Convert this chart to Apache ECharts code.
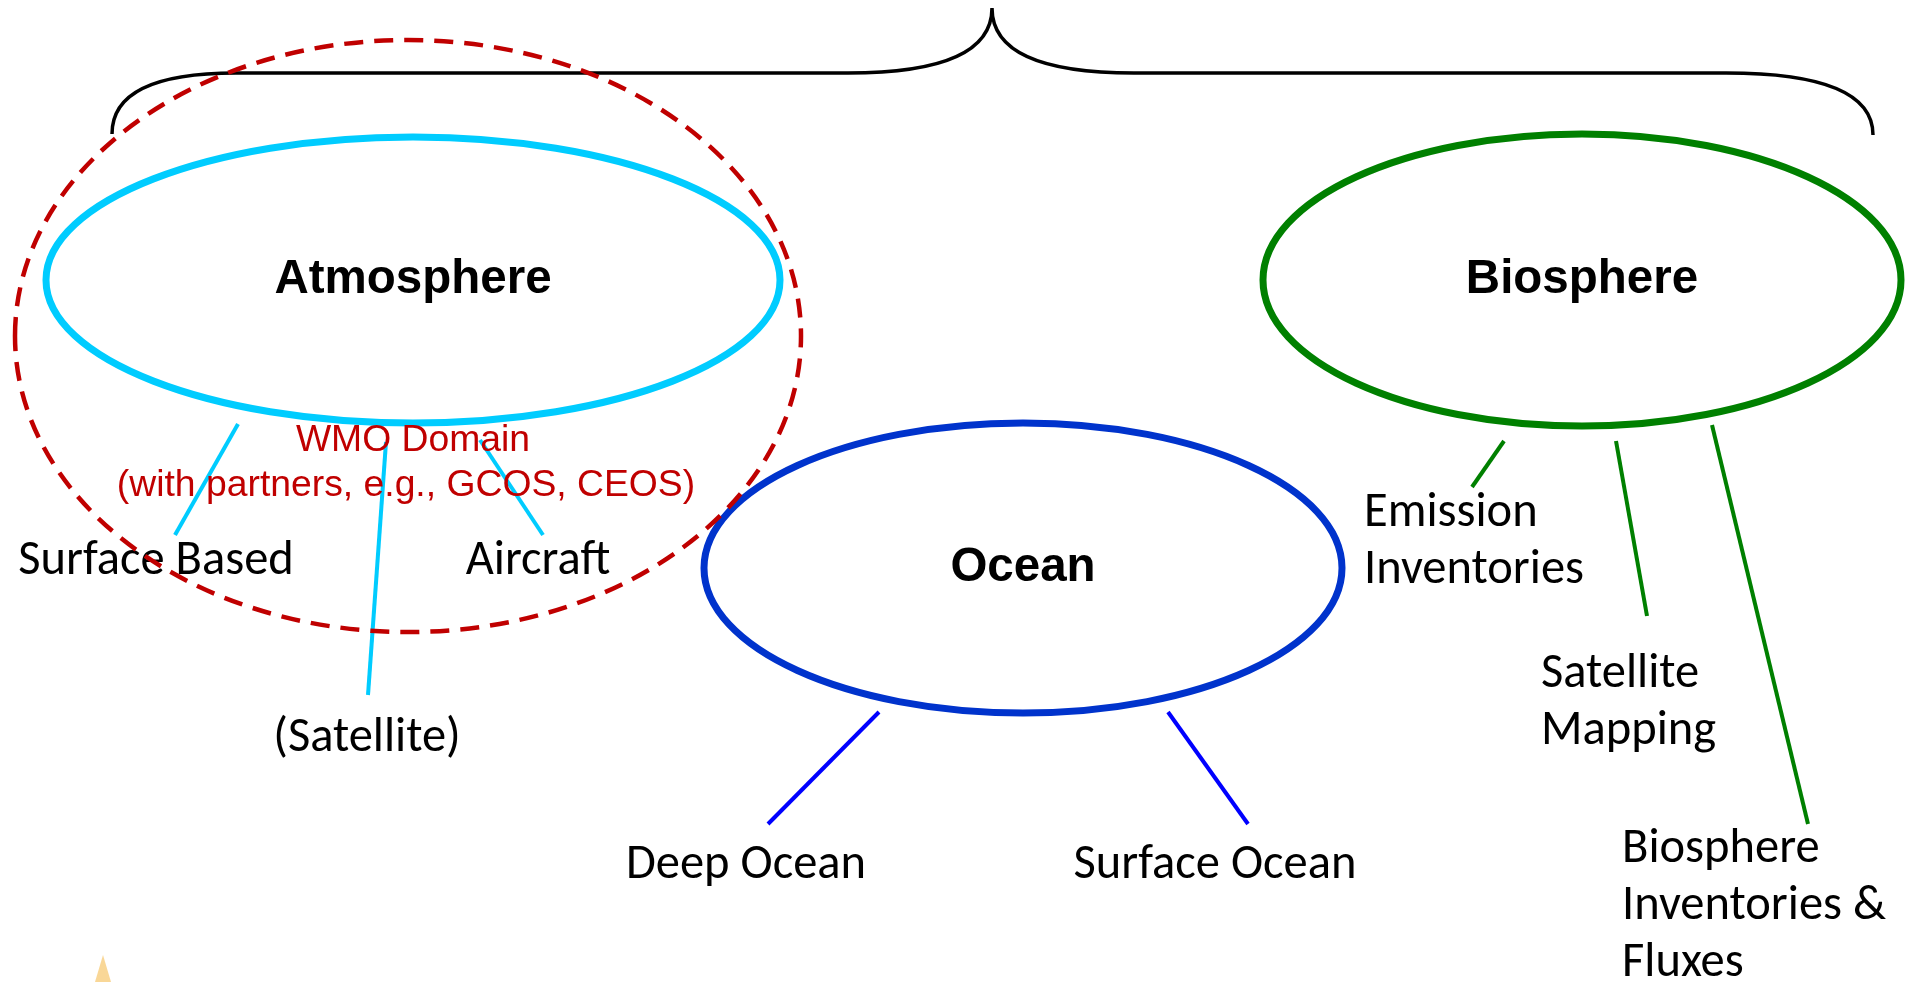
<!DOCTYPE html>
<html><head><meta charset="utf-8">
<script src="https://cdn.jsdelivr.net/npm/echarts@6/dist/echarts.min.js"></script>
<style>html,body{margin:0;padding:0;background:#fff}#c{width:1905px;height:982px}</style>
</head><body><div id="c"></div>
<script>
// Diagram space: x 0..1905, y 0..982 (y grows downward)
const domainNames = ['Atmosphere', 'Ocean', 'Biosphere'];
const domainCx = [413, 1023, 1582];
const domainCy = [280, 568, 280];
const domainRx = [367, 319, 319];
const domainRy = [143, 145, 146];

const wmoCenter = [408, 336];
const wmoRadii = [393, 296];
const wmoLines = ['WMO Domain', '(with partners, e.g., GCOS, CEOS)'];
const wmoLineX = [413, 406];
const wmoLineY = [441, 486];

const braceX = [112, 236, 848, 992, 1134, 1726, 1873];
const braceY = [134, 73, 73, 8, 73, 73, 135];

const leafLabels = ['Surface Based', 'Aircraft', '(Satellite)', 'Deep Ocean', 'Surface Ocean',
  'Emission\nInventories', 'Satellite\nMapping', 'Biosphere\nInventories &\nFluxes'];
const leafX = [156, 538, 367, 746, 1215, 1364, 1541, 1622];
const leafY = [562, 562, 739, 866, 866, 514, 675, 850];
const leafAnchor = ['center', 'center', 'center', 'center', 'center', 'left', 'left', 'left'];

const linkX1 = [238, 386, 480, 879, 1168, 1504, 1616, 1712];
const linkY1 = [424, 442, 440, 712, 712, 441, 441, 425];
const linkX2 = [175, 368, 543, 768, 1248, 1472, 1647, 1808];
const linkY2 = [535, 695, 535, 824, 824, 487, 616, 824];
const linkDomain = [0, 0, 0, 1, 1, 2, 2, 2];

const logoX = [95, 103, 111];
const logoY = [982, 955, 982];

// styles
const ellipseColors = ['#00ccff', '#0033cc', '#008000'];
const linkColors = ['#00ccff', '#0000ff', '#008000'];
const LABEL_FONT = 'Carlito, Calibri, Lato, sans-serif';
const HEAD_FONT = '"Liberation Sans", Arial, sans-serif';
const LABEL_SIZE = 48.5;
const LABEL_LH = 57;

const chart = echarts.init(document.getElementById('c'), null, {renderer: 'canvas'});

function pt(api, x, y) { return api.coord([x, y]); }

chart.setOption({
  animation: false,
  backgroundColor: '#fff',
  grid: {left: 0, right: 0, top: 0, bottom: 0},
  xAxis: {type: 'value', min: 0, max: 1905, show: false},
  yAxis: {type: 'value', min: 0, max: 982, inverse: true, show: false},
  series: [
    { // brace
      type: 'custom', coordinateSystem: 'cartesian2d', silent: true,
      data: [[braceX[0], braceY[0]]],
      renderItem: function (params, api) {
        const p = braceX.map((x, i) => pt(api, x, braceY[i]));
        const f = a => a[0].toFixed(1) + ' ' + a[1].toFixed(1);
        const c1 = [p[0][0], p[1][1]], c2 = [p[3][0], p[2][1]], c3 = [p[3][0], p[4][1]], c4 = [p[6][0], p[5][1]];
        const d = 'M' + f(p[0]) + ' Q' + f(c1) + ' ' + f(p[1]) + ' L' + f(p[2]) +
          ' Q' + f(c2) + ' ' + f(p[3]) + ' Q' + f(c3) + ' ' + f(p[4]) + ' L' + f(p[5]) +
          ' Q' + f(c4) + ' ' + f(p[6]);
        return {type: 'path', shape: {pathData: d}, style: {fill: 'none', stroke: '#000', lineWidth: 3.5}};
      }
    },
    { // domain ellipses
      type: 'custom', coordinateSystem: 'cartesian2d', silent: true,
      data: domainCx.map((x, i) => [x, domainCy[i], domainRx[i], domainRy[i]]),
      renderItem: function (params, api) {
        const c = api.coord([api.value(0), api.value(1)]);
        const e = api.coord([api.value(0) + api.value(2), api.value(1) + api.value(3)]);
        return {type: 'ellipse', shape: {cx: c[0], cy: c[1], rx: Math.abs(e[0] - c[0]), ry: Math.abs(e[1] - c[1])},
          style: {fill: 'none', stroke: ellipseColors[params.dataIndex], lineWidth: 7}};
      }
    },
    { // connectors
      type: 'custom', coordinateSystem: 'cartesian2d', silent: true,
      data: linkX1.map((x, i) => [x, linkY1[i], linkX2[i], linkY2[i]]),
      renderItem: function (params, api) {
        const a = api.coord([api.value(0), api.value(1)]);
        const b = api.coord([api.value(2), api.value(3)]);
        return {type: 'line', shape: {x1: a[0], y1: a[1], x2: b[0], y2: b[1]},
          style: {stroke: linkColors[linkDomain[params.dataIndex]], lineWidth: 4}};
      }
    },
    { // domain titles
      type: 'custom', coordinateSystem: 'cartesian2d', silent: true,
      data: domainCx.map((x, i) => [x, domainCy[i]]),
      renderItem: function (params, api) {
        const c = api.coord([api.value(0), api.value(1)]);
        return {type: 'text', x: c[0], y: c[1], style: {text: domainNames[params.dataIndex], fill: '#000',
          fontFamily: HEAD_FONT, fontWeight: 'bold', fontSize: 47.5, align: 'center', verticalAlign: 'middle'}};
      }
    },
    { // leaf labels
      type: 'custom', coordinateSystem: 'cartesian2d', silent: true,
      data: leafX.map((x, i) => [x, leafY[i]]),
      renderItem: function (params, api) {
        const c = api.coord([api.value(0), api.value(1)]);
        return {type: 'text', x: c[0], y: c[1] - LABEL_LH / 2, style: {text: leafLabels[params.dataIndex], fill: '#000',
          fontFamily: LABEL_FONT, fontSize: LABEL_SIZE, lineHeight: LABEL_LH,
          align: leafAnchor[params.dataIndex], verticalAlign: 'top'}};
      }
    },
    { // WMO text
      type: 'custom', coordinateSystem: 'cartesian2d', silent: true,
      data: wmoLineX.map((x, i) => [x, wmoLineY[i]]),
      renderItem: function (params, api) {
        const c = api.coord([api.value(0), api.value(1)]);
        return {type: 'text', x: c[0], y: c[1], style: {text: wmoLines[params.dataIndex], fill: '#c00000',
          fontFamily: HEAD_FONT, fontSize: 37.3, align: 'center', verticalAlign: 'middle'}};
      }
    },
    { // WMO dashed ellipse
      type: 'custom', coordinateSystem: 'cartesian2d', silent: true,
      data: [[wmoCenter[0], wmoCenter[1], wmoRadii[0], wmoRadii[1]]],
      renderItem: function (params, api) {
        const c = api.coord([api.value(0), api.value(1)]);
        const e = api.coord([api.value(0) + api.value(2), api.value(1) + api.value(3)]);
        return {type: 'ellipse', shape: {cx: c[0], cy: c[1], rx: Math.abs(e[0] - c[0]), ry: Math.abs(e[1] - c[1])},
          style: {fill: 'none', stroke: '#c00000', lineWidth: 4.5, lineDash: [19, 11]}};
      }
    },
    { // logo
      type: 'custom', coordinateSystem: 'cartesian2d', silent: true,
      data: [[logoX[1], logoY[1]]],
      renderItem: function (params, api) {
        const pts = logoX.map((x, i) => api.coord([x, logoY[i]]));
        return {type: 'polygon', shape: {points: pts}, style: {fill: '#f7c66b', opacity: 0.7}};
      }
    }
  ]
});
</script>
</body></html>
